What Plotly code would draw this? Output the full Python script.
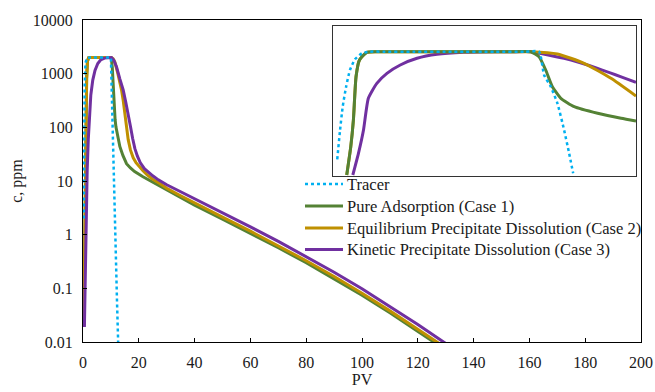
import plotly.graph_objects as go

# ---------------- main chart data (PV, c in ppm) ----------------
tracer_pv = [0.25, 0.4, 0.6, 0.9, 1.5, 10.0, 10.5, 11.2, 11.7, 12.2, 12.6]
tracer_c = [2, 50, 600, 1600, 1990, 2000, 138, 8, 0.45, 0.054, 0.01]

ads_pv = [0.3, 0.6, 1.0, 1.3, 1.6, 2.0, 2.5, 9.8, 10.2, 10.5, 10.8, 11.0, 11.2, 11.5, 11.8, 12.5, 13.2,
          14.3, 15.6, 17.0, 18.5, 21.5, 25, 30, 35,
          40, 50, 60, 70, 80, 90, 100, 110, 120, 130]
ads_c = [0.02, 1, 100, 800, 1700, 1980, 2000, 2000, 1850, 1300, 660, 350, 214, 140, 102, 65, 44,
         30, 21, 17.5, 15, 12, 9.5, 6.8, 4.9,
         3.56, 1.95, 1.06, 0.57, 0.30, 0.152, 0.0745, 0.035, 0.016, 0.0071]

eq_pv = [0.3, 0.6, 1.0, 1.3, 1.6, 2.0, 2.5, 10.2, 10.8, 11.4, 12.5, 13.3, 13.8, 14.4, 15.0, 15.6, 16.2,
         17.0, 18.0, 19.0, 20.0, 21.5, 23.0, 25.0, 27.5, 30, 35,
         40, 50, 60, 70, 80, 90, 100, 110, 120, 130]
eq_c = [0.02, 1, 100, 800, 1700, 1980, 2000, 2000, 1900, 1660, 1000, 700, 500, 320, 182, 100, 59,
        38, 27, 22, 19, 15.5, 13, 10.8, 9.0, 7.3, 5.3,
        3.88, 2.13, 1.16, 0.62, 0.327, 0.166, 0.081, 0.038, 0.0175, 0.0078]

kin_pv = [0.5, 0.9, 1.2, 1.5, 1.9, 2.3, 2.8, 3.5, 4.3, 5.3, 6.3, 7.7, 8.7, 10.2, 11.0, 12.0, 13.2,
          14.4, 15.3, 16.2, 17.0, 17.8, 18.6, 19.5, 20.5, 22.0, 23.5, 25, 27, 30, 35,
          40, 50, 60, 70, 80, 90, 100, 110, 120, 130]
kin_c = [0.019, 0.46, 3, 16, 60, 186, 400, 760, 1150, 1550, 1800, 1950, 1990, 2000, 1800, 1350, 800,
         500, 300, 182, 105, 62, 40, 29, 22, 17, 14.5, 12.5, 10.5, 8.5, 6.3,
         4.68, 2.57, 1.40, 0.75, 0.394, 0.200, 0.098, 0.046, 0.0211, 0.0094]

# ---------------- inset data (PV, c in ppm, linear) ----------------
in_tracer_pv = [0.21, 0.35, 0.48, 0.65, 0.84, 1.09, 1.43, 1.84, 2.5, 4, 6, 8, 9.5, 10.2,
                10.45, 10.78, 11.11, 11.44, 11.69, 11.89]
in_tracer_c = [267, 736, 1109, 1429, 1696, 1867, 1963, 1989, 1989, 1989, 1989, 1989, 1989, 1989,
               1616, 1429, 1163, 736, 363, 43]

in_ads_pv = [0.68, 0.88, 1.01, 1.14, 1.31, 1.67, 2.17, 3, 5, 7, 9, 9.79, 10.2, 10.53, 10.86, 11.28,
             11.94, 13.1, 14.26, 15.0]
in_ads_c = [16, 469, 896, 1589, 1856, 1979, 1989, 1989, 1989, 1989, 1989, 1989, 1909, 1696, 1429, 1243,
            1109, 1003, 923, 880]

in_eq_pv = [0.68, 0.88, 1.01, 1.14, 1.31, 1.67, 2.17, 3, 5, 7, 9, 9.79, 11.11, 12.43, 13.76, 15.0]
in_eq_c = [16, 469, 896, 1589, 1856, 1979, 1989, 1989, 1989, 1989, 1989, 1989, 1952, 1803, 1563, 1280]

in_kin_pv = [0.98, 1.26, 1.51, 1.75, 2.17, 2.67, 3.33, 4.16, 5.15, 6.47, 8.13, 9.0, 9.79, 11.44, 13.1, 15.0]
in_kin_c = [16, 363, 736, 1243, 1483, 1643, 1776, 1883, 1947, 1979, 1989, 1989, 1989, 1883, 1723, 1499]

y_tickvals = [0.01, 0.1, 1, 10, 100, 1000, 10000]
y_ticktext = ["0.01", "0.1", "1", "10", "100", "1000", "10000"]
x_tickvals = [0, 20, 40, 60, 80, 100, 120, 140, 160, 180, 200]

names = ["Tracer", "Pure Adsorption (Case 1)",
         "Equilibrium Precipitate Dissolution (Case 2)",
         "Kinetic Precipitate Dissolution (Case 3)"]
C_TR, C_AD, C_EQ, C_KI = "#00B0F0", "#548235", "#BF9000", "#7030A0"
colors = [C_TR, C_AD, C_EQ, C_KI]
dashes = ["dot", "solid", "solid", "solid"]
widths = [2.5, 3, 3, 3]

FONT = "Liberation Serif, Times New Roman, serif"
TXT = "#1a1a1a"

fig = go.Figure()
# main traces
fig.add_trace(go.Scatter(x=ads_pv, y=ads_c, mode="lines", name=names[1],
                         line=dict(color=C_AD, width=3)))
fig.add_trace(go.Scatter(x=eq_pv, y=eq_c, mode="lines", name=names[2],
                         line=dict(color=C_EQ, width=3)))
fig.add_trace(go.Scatter(x=kin_pv, y=kin_c, mode="lines", name=names[3],
                         line=dict(color=C_KI, width=3)))
fig.add_trace(go.Scatter(x=tracer_pv, y=tracer_c, mode="lines", name=names[0],
                         line=dict(color=C_TR, width=2.5, dash="dot")))

# inset traces
sp = dict(shape="spline", smoothing=0.5)
fig.add_trace(go.Scatter(x=in_kin_pv, y=in_kin_c, mode="lines", showlegend=False,
                         xaxis="x2", yaxis="y2", line=dict(color=C_KI, width=3, **sp)))
fig.add_trace(go.Scatter(x=in_eq_pv, y=in_eq_c, mode="lines", showlegend=False,
                         xaxis="x2", yaxis="y2", line=dict(color=C_EQ, width=3, **sp)))
fig.add_trace(go.Scatter(x=in_ads_pv, y=in_ads_c, mode="lines", showlegend=False,
                         xaxis="x2", yaxis="y2", line=dict(color=C_AD, width=3, **sp)))
fig.add_trace(go.Scatter(x=in_tracer_pv, y=in_tracer_c, mode="lines", showlegend=False,
                         xaxis="x2", yaxis="y2", line=dict(color=C_TR, width=2.5, dash="dot", **sp)))

W, H = 655, 392
L, R, T, B = 83, 14, 20, 50
pw, ph = W - L - R, H - T - B

def dx(px):
    return (px - L) / pw

def dy(py):
    return (H - B - py) / ph

# legend drawn as paper-positioned samples + text (to match the compact row spacing)
leg_rows = [184, 206, 228, 249.5]
shapes = []
annotations = []
for name, col, dsh, wd, ry in zip(names, colors, dashes, widths, leg_rows):
    shapes.append(dict(type="line", xref="paper", yref="paper",
                       x0=dx(305), x1=dx(343), y0=dy(ry), y1=dy(ry),
                       line=dict(color=col, width=wd, dash=dsh)))
    annotations.append(dict(text=name, xref="paper", yref="paper", x=dx(345), y=dy(ry),
                            xanchor="left", yanchor="middle", showarrow=False,
                            font=dict(family=FONT, size=16.5, color=TXT)))

fig.update_layout(
    width=W, height=H,
    margin=dict(l=L, r=R, t=T, b=B),
    paper_bgcolor="white", plot_bgcolor="white",
    font=dict(family=FONT, size=16, color=TXT),
    showlegend=False,
    shapes=shapes,
    annotations=annotations,
    xaxis=dict(range=[0, 200], tickvals=x_tickvals, ticks="inside", ticklen=4,
               tickcolor="black", showline=True, linecolor="black", linewidth=1,
               mirror=True, showgrid=False, zeroline=False, ticklabelstandoff=6,
               automargin=False,
               title=dict(text="PV", font=dict(family=FONT, size=16, color=TXT), standoff=3),
               tickfont=dict(family=FONT, size=16, color=TXT)),
    yaxis=dict(type="log", range=[-2, 4], tickvals=y_tickvals, ticktext=y_ticktext,
               ticks="inside", ticklen=4, tickcolor="black", showline=True,
               linecolor="black", linewidth=1, mirror=True, showgrid=False,
               zeroline=False, ticklabelstandoff=6, automargin=False,
               title=dict(text="c, ppm", font=dict(family=FONT, size=16, color=TXT), standoff=6),
               tickfont=dict(family=FONT, size=16, color=TXT)),
    xaxis2=dict(domain=[dx(333), dx(636)], anchor="y2", range=[0, 15],
                showticklabels=False, ticks="", showgrid=False, zeroline=False,
                showline=True, linecolor="#333333", linewidth=1, mirror=True),
    yaxis2=dict(domain=[dy(176), dy(26)], anchor="x2", range=[0, 2400],
                showticklabels=False, ticks="", showgrid=False, zeroline=False,
                showline=True, linecolor="#333333", linewidth=1, mirror=True),
)

fig.write_html("out.html")
